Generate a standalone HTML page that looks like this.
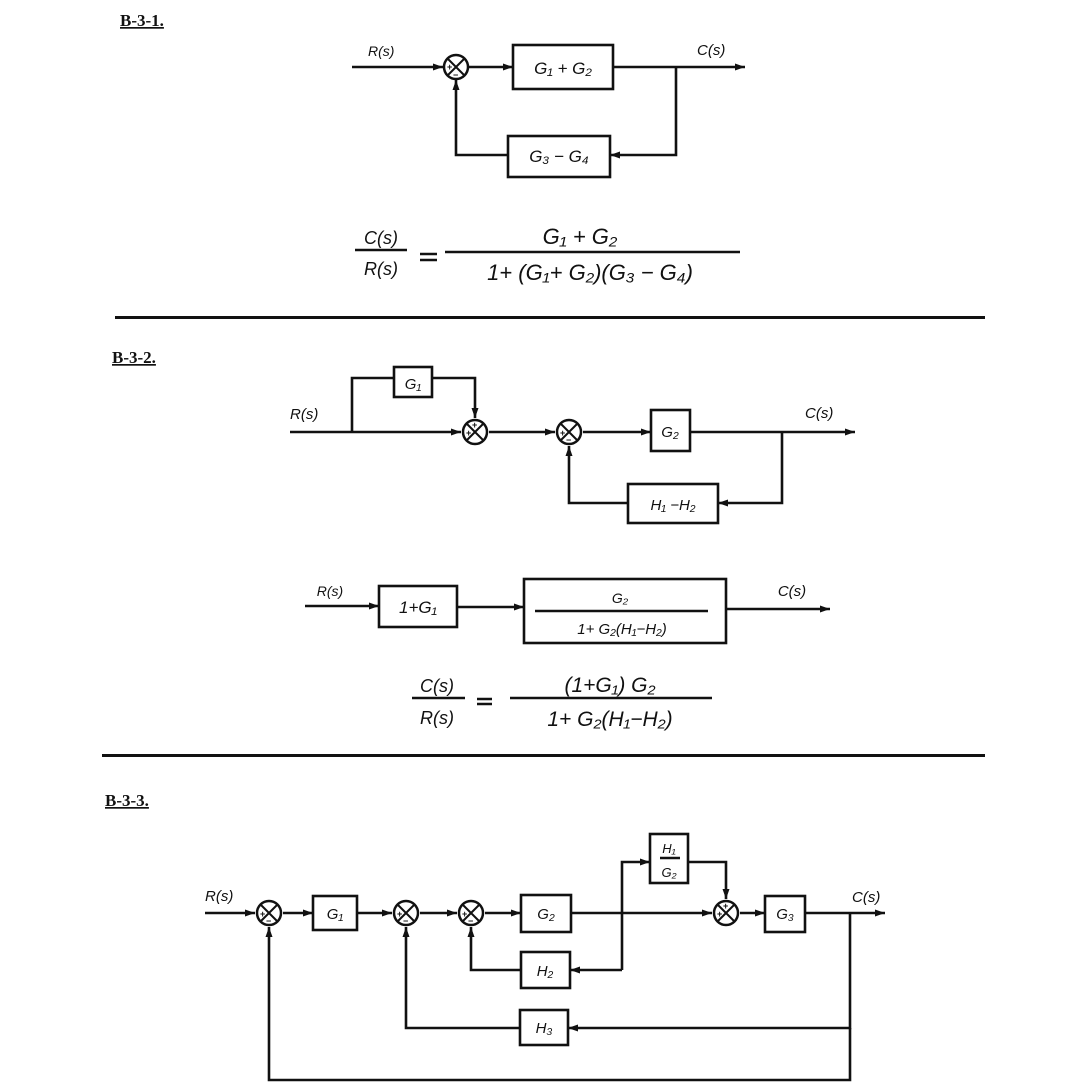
<!DOCTYPE html>
<html><head><meta charset="utf-8"><style>
html,body{margin:0;padding:0;background:#fff;}
svg{display:block;}
text{font-family:"Liberation Sans",sans-serif;font-style:italic;fill:#111;}
.lb{font-family:"Liberation Serif",serif;font-style:normal;font-weight:bold;font-size:17px;text-decoration:underline;}
.sg{font-style:normal;font-weight:bold;font-size:9px;}
</style></head><body>
<svg width="1086" height="1086" viewBox="0 0 1086 1086" xmlns="http://www.w3.org/2000/svg">
<defs>
<marker id="a" viewBox="0 0 10 10" refX="10" refY="5" markerWidth="10" markerHeight="10" markerUnits="userSpaceOnUse" orient="auto"><path d="M0,1.5 L10,5 L0,8.5 z" fill="#111"/></marker>
<g id="sum"><circle r="12" fill="#fff" stroke="#111" stroke-width="2.5"/><path d="M-8.5,-8.5 L8.5,8.5 M8.5,-8.5 L-8.5,8.5" stroke="#111" stroke-width="2"/></g>
</defs>
<g stroke="#111" stroke-width="2.6" fill="none">
<!-- B-3-1 -->
<path d="M352,67 L443,67" marker-end="url(#a)"/>
<path d="M468,67 L513,67" marker-end="url(#a)"/>
<rect x="513" y="45" width="100" height="44"/>
<path d="M613,67 L745,67" marker-end="url(#a)"/>
<path d="M676,67 L676,155 L610,155" marker-end="url(#a)"/>
<rect x="508" y="136" width="102" height="41"/>
<path d="M508,155 L456,155 L456,80" marker-end="url(#a)"/>
<path d="M355,250 L407,250 M445,252 L740,252"/>
<path d="M420,254 L437,254 M420,260 L437,260"/>
</g>
<use href="#sum" x="456" y="67"/>
<text class="sg" x="447" y="70">+</text><text class="sg" x="453" y="78">−</text>
<text class="lb" x="120" y="26" style="font-size:17px">B-3-1.</text>
<text x="368" y="56" font-size="14">R(s)</text>
<text x="697" y="55" font-size="15">C(s)</text>
<text x="563" y="74" font-size="17" text-anchor="middle">G₁ + G₂</text>
<text x="559" y="162" font-size="17" text-anchor="middle">G₃ − G₄</text>
<text x="381" y="244" font-size="18" text-anchor="middle">C(s)</text>
<text x="381" y="275" font-size="18" text-anchor="middle">R(s)</text>
<text x="580" y="244" font-size="22" text-anchor="middle">G₁ + G₂</text>
<text x="590" y="280" font-size="22" text-anchor="middle">1+ (G₁+ G₂)(G₃ − G₄)</text>
<rect x="115" y="316" width="870" height="3" fill="#111"/>

<!-- B-3-2 -->
<g stroke="#111" stroke-width="2.6" fill="none">
<path d="M290,432 L461,432" marker-end="url(#a)"/>
<path d="M352,432 L352,378 L394,378"/>
<rect x="394" y="367" width="38" height="30"/>
<path d="M432,378 L475,378 L475,418" marker-end="url(#a)"/>
<path d="M489,432 L555,432" marker-end="url(#a)"/>
<path d="M583,432 L651,432" marker-end="url(#a)"/>
<rect x="651" y="410" width="39" height="41"/>
<path d="M690,432 L855,432" marker-end="url(#a)"/>
<path d="M782,432 L782,503 L718,503" marker-end="url(#a)"/>
<rect x="628" y="484" width="90" height="39"/>
<path d="M628,503 L569,503 L569,446" marker-end="url(#a)"/>
<path d="M305,606 L379,606" marker-end="url(#a)"/>
<rect x="379" y="586" width="78" height="41"/>
<path d="M457,607 L524,607" marker-end="url(#a)"/>
<rect x="524" y="579" width="202" height="64"/>
<path d="M535,611 L708,611"/>
<path d="M726,609 L830,609" marker-end="url(#a)"/>
<path d="M412,698 L465,698 M510,698 L712,698"/>
<path d="M477,699 L492,699 M477,704 L492,704"/>
</g>
<use href="#sum" x="475" y="432"/>
<use href="#sum" x="569" y="432"/>
<text class="sg" x="466" y="436">+</text><text class="sg" x="472" y="428">+</text>
<text class="sg" x="560" y="436">+</text><text class="sg" x="566" y="443">−</text>
<text class="lb" x="112" y="363">B-3-2.</text>
<text x="290" y="419" font-size="15">R(s)</text>
<text x="805" y="418" font-size="15">C(s)</text>
<text x="413" y="389" font-size="15" text-anchor="middle">G₁</text>
<text x="670" y="437" font-size="15" text-anchor="middle">G₂</text>
<text x="673" y="510" font-size="15" text-anchor="middle">H₁ −H₂</text>
<text x="330" y="596" font-size="14" text-anchor="middle">R(s)</text>
<text x="792" y="596" font-size="15" text-anchor="middle">C(s)</text>
<text x="418" y="613" font-size="17" text-anchor="middle">1+G₁</text>
<text x="620" y="603" font-size="14" text-anchor="middle">G₂</text>
<text x="622" y="634" font-size="15" text-anchor="middle">1+ G₂(H₁−H₂)</text>
<text x="437" y="692" font-size="18" text-anchor="middle">C(s)</text>
<text x="437" y="724" font-size="18" text-anchor="middle">R(s)</text>
<text x="610" y="692" font-size="21" text-anchor="middle">(1+G₁) G₂</text>
<text x="610" y="726" font-size="21" text-anchor="middle">1+ G₂(H₁−H₂)</text>
<rect x="102" y="754" width="883" height="3" fill="#111"/>

<!-- B-3-3 -->
<g stroke="#111" stroke-width="2.6" fill="none">
<path d="M205,913 L255,913" marker-end="url(#a)"/>
<path d="M283,913 L313,913" marker-end="url(#a)"/>
<rect x="313" y="896" width="44" height="34"/>
<path d="M357,913 L392,913" marker-end="url(#a)"/>
<path d="M420,913 L457,913" marker-end="url(#a)"/>
<path d="M485,913 L521,913" marker-end="url(#a)"/>
<rect x="521" y="895" width="50" height="37"/>
<path d="M571,913 L712,913" marker-end="url(#a)"/>
<path d="M622,970 L622,862 L650,862" marker-end="url(#a)"/>
<rect x="650" y="834" width="38" height="49"/>
<path d="M660,858 L680,858"/>
<path d="M688,862 L726,862 L726,899" marker-end="url(#a)"/>
<path d="M740,913 L765,913" marker-end="url(#a)"/>
<rect x="765" y="896" width="40" height="36"/>
<path d="M805,913 L885,913" marker-end="url(#a)"/>
<path d="M622,970 L570,970" marker-end="url(#a)"/>
<rect x="521" y="952" width="49" height="36"/>
<path d="M521,970 L471,970 L471,927" marker-end="url(#a)"/>
<path d="M850,913 L850,1028 L568,1028" marker-end="url(#a)"/>
<rect x="520" y="1010" width="48" height="35"/>
<path d="M520,1028 L406,1028 L406,927" marker-end="url(#a)"/>
<path d="M850,1028 L850,1080 L269,1080 L269,927" marker-end="url(#a)"/>
</g>
<use href="#sum" x="269" y="913"/>
<use href="#sum" x="406" y="913"/>
<use href="#sum" x="471" y="913"/>
<use href="#sum" x="726" y="913"/>
<text class="sg" x="260" y="917">+</text><text class="sg" x="266" y="924">−</text>
<text class="sg" x="397" y="917">+</text><text class="sg" x="403" y="924">−</text>
<text class="sg" x="462" y="917">+</text><text class="sg" x="468" y="924">−</text>
<text class="sg" x="717" y="917">+</text><text class="sg" x="723" y="909">+</text>
<text class="lb" x="105" y="806">B-3-3.</text>
<text x="205" y="901" font-size="15">R(s)</text>
<text x="852" y="902" font-size="15">C(s)</text>
<text x="335" y="919" font-size="15" text-anchor="middle">G₁</text>
<text x="546" y="919" font-size="15" text-anchor="middle">G₂</text>
<text x="669" y="853" font-size="13" text-anchor="middle">H₁</text>
<text x="669" y="877" font-size="13" text-anchor="middle">G₂</text>
<text x="785" y="919" font-size="15" text-anchor="middle">G₃</text>
<text x="545" y="976" font-size="15" text-anchor="middle">H₂</text>
<text x="544" y="1033" font-size="15" text-anchor="middle">H₃</text>
</svg>
</body></html>
